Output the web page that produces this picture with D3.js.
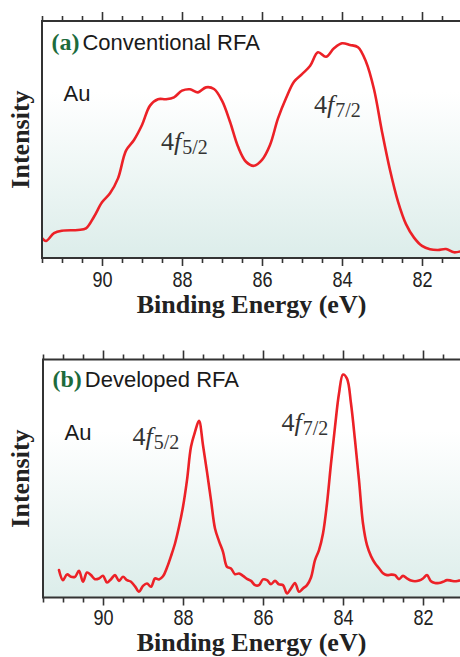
<!DOCTYPE html>
<html>
<head>
<meta charset="utf-8">
<script src="https://cdn.jsdelivr.net/npm/d3@7/dist/d3.min.js"></script>
<style>
  html, body { margin: 0; padding: 0; background: #fff; }
  svg { display: block; }
</style>
</head>
<body>
<svg id="chart" width="460" height="657"></svg>
<script>
// ---------------- DATA ----------------
// Panel (a): Conventional RFA, Au 4f spectrum (binding energy eV, intensity a.u. 0-100)
const energyA = [91.5, 91.4, 91.2, 91.0, 90.6, 90.4, 90.2, 90.0, 89.8, 89.6, 89.4, 89.2, 89.0, 88.8, 88.6, 88.4, 88.2, 88.0, 87.8, 87.6, 87.4, 87.2, 87.0, 86.8, 86.6, 86.4, 86.2, 86.0, 85.8, 85.6, 85.4, 85.2, 85.0, 84.8, 84.6, 84.4, 84.2, 84.0, 83.8, 83.6, 83.4, 83.2, 83.0, 82.8, 82.6, 82.4, 82.2, 82.0, 81.8, 81.6, 81.4, 81.2, 81.0];
const intensityA = [8.4, 7.2, 10.5, 11.5, 11.8, 12.5, 17.4, 23.5, 27.3, 33.6, 45.3, 49.8, 56.1, 64.3, 67.0, 67.0, 67.8, 70.6, 71.2, 69.9, 72.0, 71.3, 66.4, 57.5, 47.0, 40.6, 38.9, 41.4, 47.7, 58.9, 67.4, 74.4, 77.6, 81.0, 86.8, 84.9, 88.5, 90.6, 89.9, 88.9, 82.8, 71.2, 53.3, 37.1, 23.8, 14.3, 8.6, 5.1, 3.7, 3.4, 3.8, 2.4, 3.0];

// Panel (b): Developed RFA, Au 4f spectrum (0.1 eV steps from 91.1 to 81.0)
const energyB = [91.1, 91.0, 90.9, 90.8, 90.7, 90.6, 90.5, 90.4, 90.3, 90.2, 90.1, 90.0, 89.9, 89.8, 89.7, 89.6, 89.5, 89.4, 89.3, 89.2, 89.1, 89.0, 88.9, 88.8, 88.7, 88.6, 88.5, 88.4, 88.3, 88.2, 88.1, 88.0, 87.9, 87.8, 87.7, 87.6, 87.5, 87.4, 87.3, 87.2, 87.1, 87.0, 86.9, 86.8, 86.7, 86.6, 86.5, 86.4, 86.3, 86.2, 86.1, 86.0, 85.9, 85.8, 85.7, 85.6, 85.5, 85.4, 85.3, 85.2, 85.1, 85.0, 84.9, 84.8, 84.7, 84.6, 84.5, 84.4, 84.3, 84.2, 84.1, 84.0, 83.9, 83.8, 83.7, 83.6, 83.5, 83.4, 83.3, 83.2, 83.1, 83.0, 82.9, 82.8, 82.7, 82.6, 82.5, 82.4, 82.3, 82.2, 82.1, 82.0, 81.9, 81.8, 81.7, 81.6, 81.5, 81.4, 81.3, 81.2, 81.1, 81.0];
const intensityB = [11.5, 7.3, 9.7, 8.7, 8.7, 11.2, 6.6, 10.5, 9.4, 7.7, 8.0, 9.1, 6.3, 7.7, 9.4, 7.0, 8.7, 7.3, 6.6, 4.7, 2.4, 4.9, 5.9, 4.5, 8.0, 7.6, 8.9, 12.6, 17.4, 22.7, 29.7, 38.1, 49.3, 63.3, 69.6, 74.2, 64.0, 52.8, 40.9, 29.0, 23.7, 19.2, 12.9, 12.2, 9.8, 10.1, 9.1, 7.8, 7.0, 5.2, 5.2, 7.6, 7.3, 5.6, 7.0, 5.5, 5.2, 1.7, 3.8, 6.1, 2.4, 3.8, 5.2, 8.4, 15.7, 19.9, 26.9, 39.5, 56.3, 71.7, 85.7, 93.7, 92.0, 81.5, 66.1, 49.3, 31.1, 22.0, 17.4, 14.4, 12.3, 10.2, 9.4, 9.6, 9.4, 7.7, 9.1, 8.0, 7.1, 6.8, 7.1, 8.0, 9.4, 6.8, 6.1, 6.1, 6.6, 7.3, 7.1, 6.8, 7.1, 7.3];

// Axis ticks
const majorTicks = [90, 88, 86, 84, 82];
const minorTicks = [91.5, 91, 90.5, 89.5, 89, 88.5, 87.5, 87, 86.5, 85.5, 85, 84.5, 83.5, 83, 82.5, 81.5, 81];
const xDomain = [91.5, 81.0];
const yDomain = [0, 100];

// Texts
const panelLetters = ["(a)", "(b)"];
const panelTitles = ["Conventional RFA", "Developed RFA"];
const sampleLabel = "Au";
const xTitle = "Binding Energy (eV)";
const yTitle = "Intensity";

// ---------------- DRAW ----------------
const svg = d3.select("#chart");
const defs = svg.append("defs");
const grad = defs.append("linearGradient").attr("id", "bg").attr("x1", 0).attr("y1", 0).attr("x2", 0).attr("y2", 1);
grad.append("stop").attr("offset", "0%").attr("stop-color", "#ffffff");
grad.append("stop").attr("offset", "30%").attr("stop-color", "#ffffff");
grad.append("stop").attr("offset", "100%").attr("stop-color", "#dcedea");

const serif = "'Liberation Serif', 'Times New Roman', Times, serif";
const sans = "'Liberation Sans', Arial, Helvetica, sans-serif";

const panels = [
  { left: 42, top: 21, bottom: 258, e: energyA, v: intensityA,
    labels: [{ x: 161, y: 150, sub: "5/2" }, { x: 314, y: 113, sub: "7/2" }],
    titleY: 50, auY: 101, tickY: 287, xTitleY: 312.5 },
  { left: 43, top: 359.5, bottom: 597.5, e: energyB, v: intensityB,
    labels: [{ x: 132.5, y: 445, sub: "5/2" }, { x: 281.5, y: 431, sub: "7/2" }],
    titleY: 386.5, auY: 440, tickY: 625.5, xTitleY: 650.5 }
];

const frameColor = "#333";

panels.forEach((p, i) => {
  const x = d3.scaleLinear().domain(xDomain).range([p.left, p.left + 40 * (xDomain[0] - xDomain[1])]);
  const y = d3.scaleLinear().domain(yDomain).range([p.bottom, p.top]);
  const g = svg.append("g");

  // background gradient
  g.append("rect")
    .attr("x", p.left).attr("y", p.top)
    .attr("width", x.range()[1] - p.left).attr("height", p.bottom - p.top)
    .attr("fill", "url(#bg)");

  // clip
  const clipId = "clip" + i;
  defs.append("clipPath").attr("id", clipId).append("rect")
    .attr("x", p.left).attr("y", p.top - 2)
    .attr("width", x.range()[1] - p.left).attr("height", p.bottom - p.top + 2);

  // line
  const data = p.e.map((d, k) => ({ e: d, v: p.v[k] }));
  const line = d3.line().x(d => x(d.e)).y(d => y(d.v)).curve(d3.curveCatmullRom.alpha(0.5));
  g.append("path").datum(data)
    .attr("d", line)
    .attr("fill", "none")
    .attr("stroke", "#ec2127")
    .attr("stroke-width", 2.6)
    .attr("stroke-linejoin", "round")
    .attr("stroke-linecap", "round")
    .attr("clip-path", "url(#" + clipId + ")");

  // bottom axis major
  const axB = g.append("g").attr("transform", `translate(0,${p.bottom})`)
    .call(d3.axisBottom(x).tickValues(majorTicks).tickSize(8).tickSizeOuter(0).tickFormat(d3.format("d")));
  axB.select(".domain").remove();
  axB.selectAll("line").attr("stroke", frameColor).attr("stroke-width", 1.6);
  axB.selectAll("text")
    .attr("x", 0)
    .attr("y", p.tickY - p.bottom).attr("dy", null)
    .attr("transform", "scale(0.82,1)")
    .style("font-family", sans)
    .style("font-size", "22px")
    .attr("fill", "#222");

  // bottom minor
  const axBm = g.append("g").attr("transform", `translate(0,${p.bottom})`)
    .call(d3.axisBottom(x).tickValues(minorTicks).tickSize(5).tickSizeOuter(0).tickFormat(""));
  axBm.select(".domain").remove();
  axBm.selectAll("line").attr("stroke", frameColor).attr("stroke-width", 1.6);

  // top axis major + minor
  const axT = g.append("g").attr("transform", `translate(0,${p.top})`)
    .call(d3.axisTop(x).tickValues(majorTicks).tickSize(9).tickSizeOuter(0).tickFormat(""));
  axT.select(".domain").remove();
  axT.selectAll("line").attr("stroke", frameColor).attr("stroke-width", 1.6);
  const axTm = g.append("g").attr("transform", `translate(0,${p.top})`)
    .call(d3.axisTop(x).tickValues(minorTicks).tickSize(5).tickSizeOuter(0).tickFormat(""));
  axTm.select(".domain").remove();
  axTm.selectAll("line").attr("stroke", frameColor).attr("stroke-width", 1.6);

  // frame (left, top, bottom)
  const xr = x.range()[1];
  g.append("path")
    .attr("d", `M${xr},${p.top}H${p.left}V${p.bottom}H${xr}`)
    .attr("fill", "none").attr("stroke", frameColor).attr("stroke-width", 2);

  // panel title
  const t = g.append("text").attr("x", p.left + 9.5).attr("y", p.titleY);
  t.append("tspan").text(panelLetters[i])
    .style("font-family", serif)
    .style("font-weight", "bold").style("font-size", "24px").attr("fill", "#1c6b3c");
  t.append("tspan").text(panelTitles[i]).attr("dx", 3)
    .style("font-family", sans)
    .style("font-size", "22px").attr("fill", "#1a1a1a");

  // Au
  g.append("text").attr("x", p.left + 21.5).attr("y", p.auY).text(sampleLabel)
    .style("font-family", sans)
    .style("font-size", "22px").attr("fill", "#1a1a1a");

  // peak labels
  p.labels.forEach(l => {
    const tx = g.append("text").attr("x", l.x).attr("y", l.y)
      .style("font-family", serif)
      .style("font-size", "26px").attr("fill", "#333");
    tx.append("tspan").text("4").style("font-family", serif);
    tx.append("tspan").text("f").style("font-family", serif).style("font-style", "italic");
    tx.append("tspan").text(l.sub).attr("dy", 4).attr("dx", 1)
      .style("font-family", serif).style("font-size", "20px");
  });

  // x title
  g.append("text").attr("x", 251.5).attr("y", p.xTitleY).attr("text-anchor", "middle")
    .text(xTitle)
    .style("font-family", serif)
    .style("font-weight", "bold").style("font-size", "26px").attr("fill", "#222");

  // y title
  g.append("text")
    .attr("transform", `translate(28.5,${(p.top + p.bottom) / 2}) rotate(-90)`)
    .attr("text-anchor", "middle")
    .text(yTitle)
    .style("font-family", serif)
    .style("font-weight", "bold").style("font-size", "26px").attr("fill", "#222");
});
</script>
</body>
</html>
